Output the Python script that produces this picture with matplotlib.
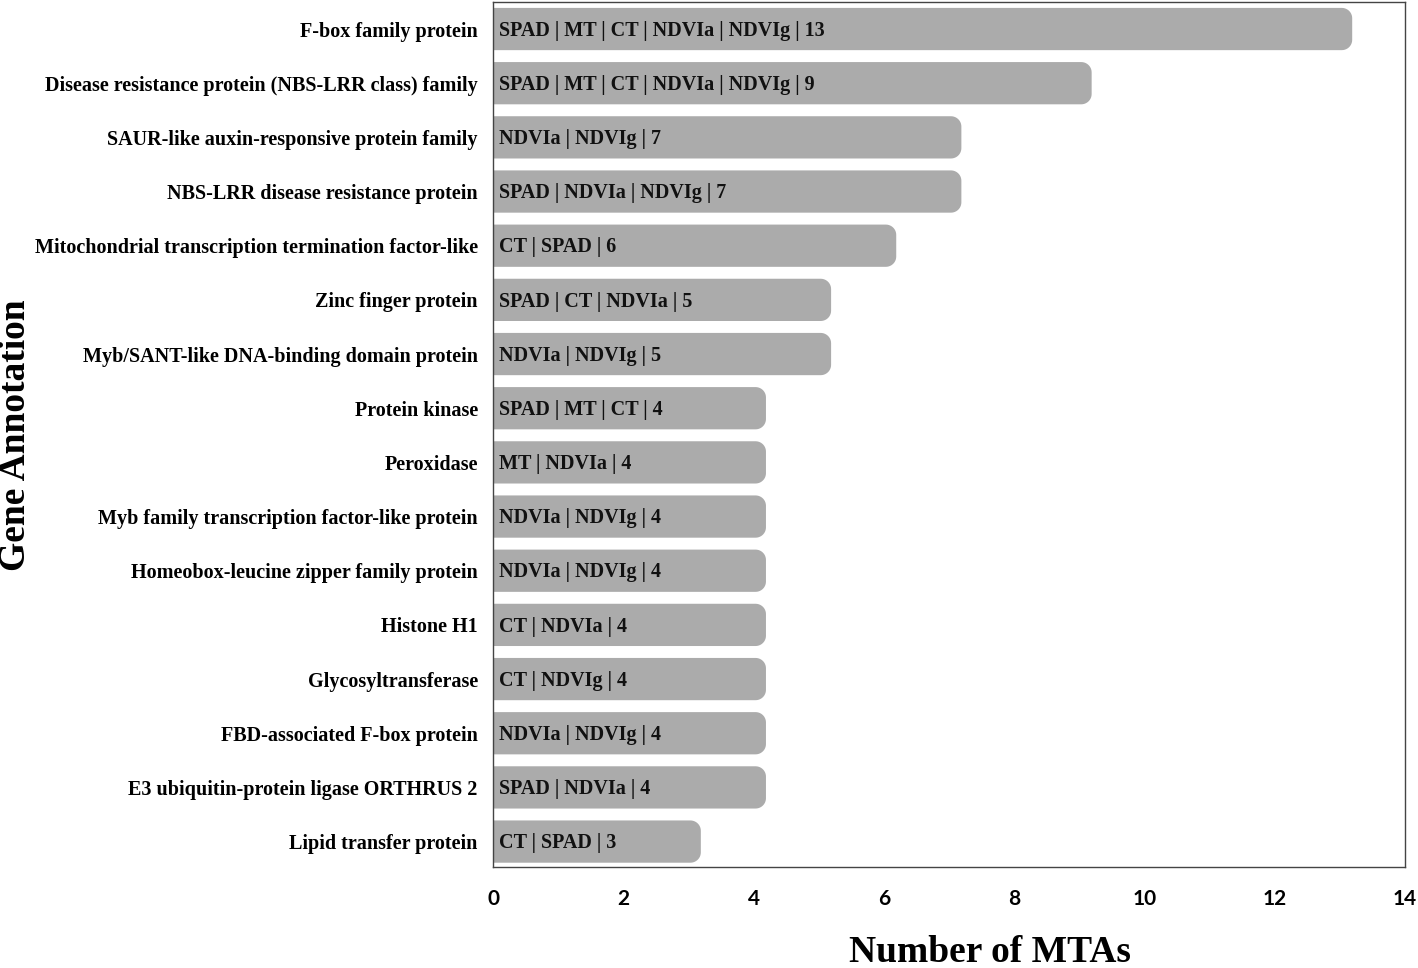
import matplotlib
matplotlib.use("Agg")
import numpy as np
import matplotlib.pyplot as plt
from matplotlib.patches import Polygon

# data, top to bottom as in the figure
annotations = [
    "F-box family protein",
    "Disease resistance protein (NBS-LRR class) family",
    "SAUR-like auxin-responsive protein family",
    "NBS-LRR disease resistance protein",
    "Mitochondrial transcription termination factor-like",
    "Zinc finger protein",
    "Myb/SANT-like DNA-binding domain protein",
    "Protein kinase",
    "Peroxidase",
    "Myb family transcription factor-like protein",
    "Homeobox-leucine zipper family protein",
    "Histone H1",
    "Glycosyltransferase",
    "FBD-associated F-box protein",
    "E3 ubiquitin-protein ligase ORTHRUS 2",
    "Lipid transfer protein",
]
mta_counts = [13, 9, 7, 7, 6, 5, 5, 4, 4, 4, 4, 4, 4, 4, 4, 3]
traits = [
    ["SPAD", "MT", "CT", "NDVIa", "NDVIg"],
    ["SPAD", "MT", "CT", "NDVIa", "NDVIg"],
    ["NDVIa", "NDVIg"],
    ["SPAD", "NDVIa", "NDVIg"],
    ["CT", "SPAD"],
    ["SPAD", "CT", "NDVIa"],
    ["NDVIa", "NDVIg"],
    ["SPAD", "MT", "CT"],
    ["MT", "NDVIa"],
    ["NDVIa", "NDVIg"],
    ["NDVIa", "NDVIg"],
    ["CT", "NDVIa"],
    ["CT", "NDVIg"],
    ["NDVIa", "NDVIg"],
    ["SPAD", "NDVIa"],
    ["CT", "SPAD"],
]
x_ticks = [0, 2, 4, 6, 8, 10, 12, 14]

SERIF = ["Liberation Serif", "DejaVu Serif"]
BAR_COLOR = "#ABABAB"
BAR_H = 0.78
CAP = 0.19          # rounded end sticks out a little past the value
RX = 0.16           # corner radius, x units
RY = 0.19           # corner radius, y units (same size in pixels)


def right_rounded_bar(x1, yc, h):
    """Bar from x=0 to x1 with only its right corners rounded."""
    y0, y1 = yc - h / 2, yc + h / 2
    t = np.linspace(0, np.pi / 2, 12)
    # bottom-right corner (y0 side), then top-right corner (y1 side)
    c1 = np.column_stack([x1 - RX + RX * np.sin(t), y0 + RY - RY * np.cos(t)])
    c2 = np.column_stack([x1 - RX + RX * np.cos(t), y1 - RY + RY * np.sin(t)])
    pts = np.vstack([[0, y0], c1, c2, [0, y1]])
    return Polygon(pts, closed=True, facecolor=BAR_COLOR, edgecolor="none", zorder=2)


fig = plt.figure(figsize=(14.18, 9.68), dpi=100)
ax = fig.add_axes([0.3477, 0.1043, 0.6431, 0.8937])
ax.set_xlim(0, 14)
ax.set_ylim(15.47, -0.5)

for i, (n, tr) in enumerate(zip(mta_counts, traits)):
    ax.add_patch(right_rounded_bar(n + CAP, i, BAR_H))
    label = " | ".join(tr + [str(n)])
    ax.annotate(label, (0, i), xytext=(4, -4.8), textcoords="offset points",
                ha="left", va="baseline", fontsize=14.5, fontweight="bold",
                family=SERIF, color="#111111", zorder=3)

ax.set_yticks(range(len(annotations)))
ax.set_yticklabels(annotations, family=SERIF, fontweight="bold", fontsize=14.5)
ax.set_xticks(x_ticks)
ax.set_xticklabels([str(t) for t in x_ticks], family=["Lato", "DejaVu Sans"],
                   fontweight="bold", fontsize=15)
ax.tick_params(axis="both", length=0)
ax.tick_params(axis="y", pad=11)
ax.tick_params(axis="x", pad=16)

for side in ["top", "right", "bottom", "left"]:
    ax.spines[side].set_color("#444444")
    ax.spines[side].set_linewidth(1.0)

fig.text(990 / 1418, 1 - 952 / 968, "Number of MTAs", ha="center", va="center",
         family=SERIF, fontweight="bold", fontsize=27)
fig.text(16 / 1418, 1 - 435 / 968, "Gene Annotation", ha="center", va="center",
         rotation=90, family=SERIF, fontweight="bold", fontsize=27)

fig.savefig("out.png", dpi=100, facecolor="white")
